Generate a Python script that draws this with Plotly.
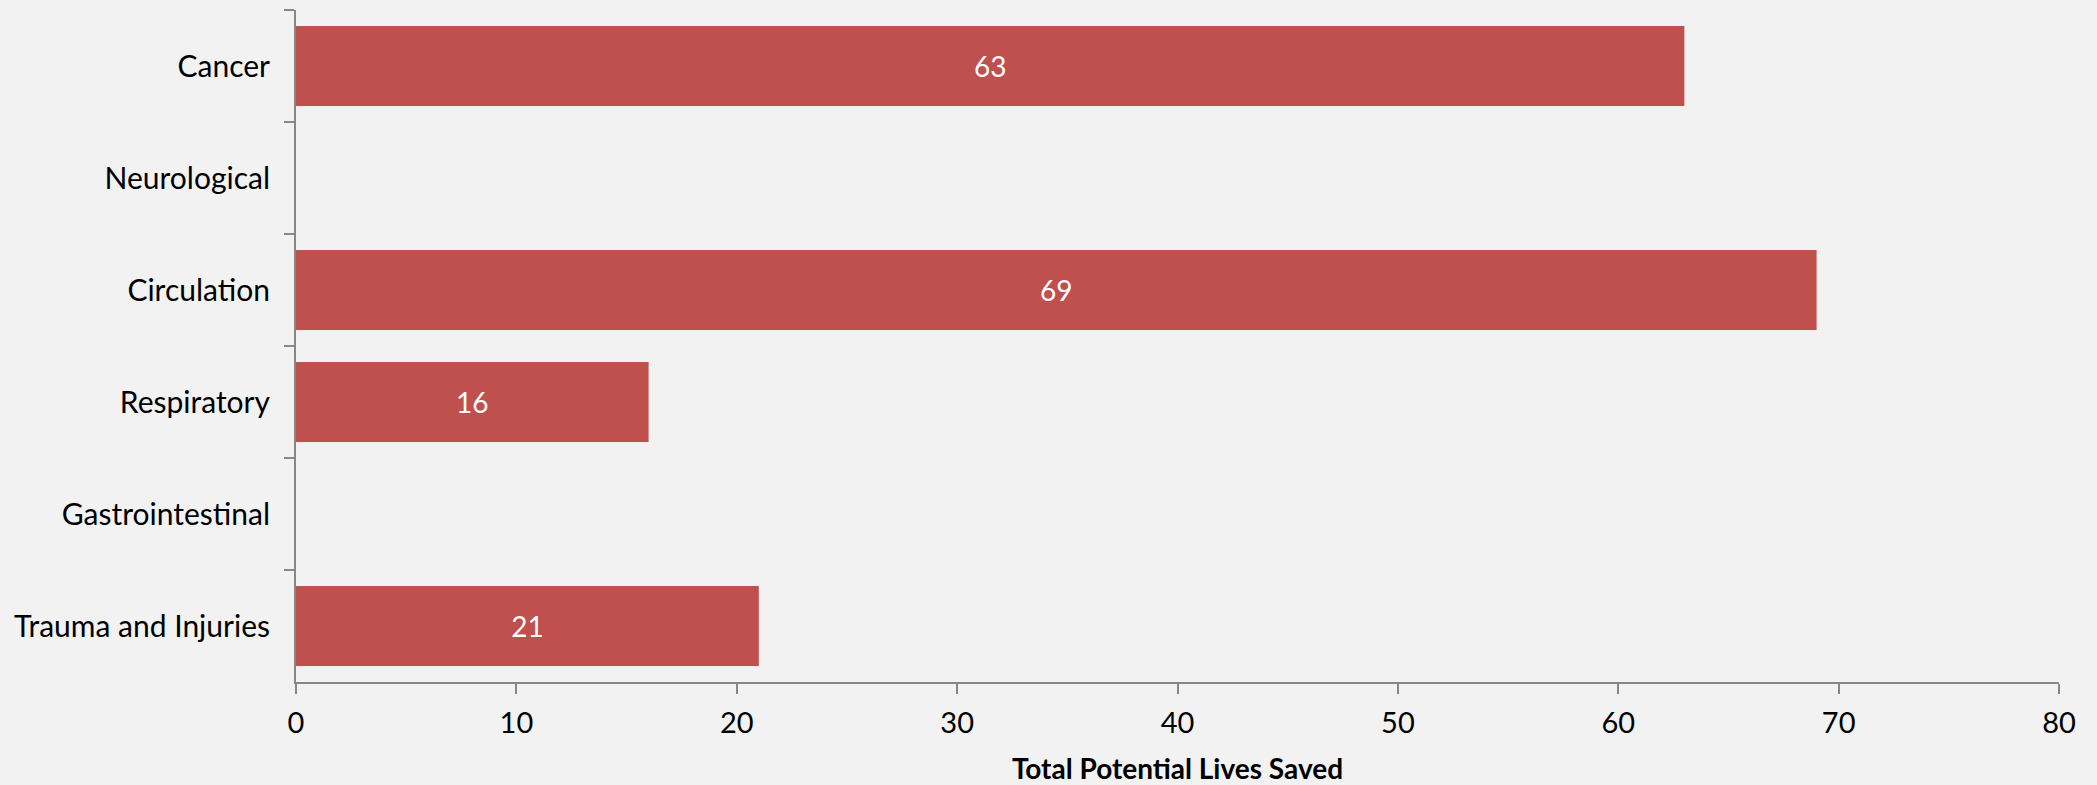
import plotly.graph_objects as go

categories = ["Cancer", "Neurological", "Circulation", "Respiratory", "Gastrointestinal", "Trauma and Injuries"]
values = [63, 0, 69, 16, 0, 21]
labels = ["63", "-", "69", "16", "-", "21"]
x_ticks = [0, 10, 20, 30, 40, 50, 60, 70, 80]

FONT = "Lato"
AXIS = "#878787"
BG = "#F2F2F2"

fig = go.Figure()
fig.add_trace(go.Bar(
    x=values, y=categories, orientation="h",
    marker=dict(color="#C0504D", line=dict(width=0)),
    text=labels, textposition="auto", insidetextanchor="middle",
    textfont=dict(color="white", size=28, family=FONT),
    outsidetextfont=dict(color="white", size=28, family=FONT),
    cliponaxis=False,
))

fig.update_layout(
    width=2097, height=785,
    paper_bgcolor=BG, plot_bgcolor=BG,
    margin=dict(l=296, r=38, t=10, b=103, autoexpand=False),
    bargap=0.286,
    showlegend=False,
    font=dict(family=FONT, size=30, color="black"),
    xaxis=dict(
        range=[0, 80], tickvals=x_ticks, showgrid=False, zeroline=False,
        showline=True, linecolor=AXIS, linewidth=2,
        ticks="outside", ticklen=10, tickcolor=AXIS, tickwidth=2,
        tickfont=dict(size=29, family=FONT), ticklabelstandoff=4,
        title=dict(text="<b>Total Potential Lives Saved</b>", font=dict(size=28, family=FONT), standoff=24),
    ),
    yaxis=dict(
        autorange="reversed", showgrid=False, zeroline=False,
        showline=True, linecolor=AXIS, linewidth=2,
        ticks="outside", tickson="boundaries", ticklen=10, tickcolor=AXIS, tickwidth=2,
        tickfont=dict(size=30, family=FONT), ticklabelstandoff=18,
    ),
)

fig.write_html(
    "out.html",
    config={"displayModeBar": False},
    post_script="document.body.style.margin='0';document.body.style.background='%s';document.body.style.overflow='hidden';" % BG,
)
